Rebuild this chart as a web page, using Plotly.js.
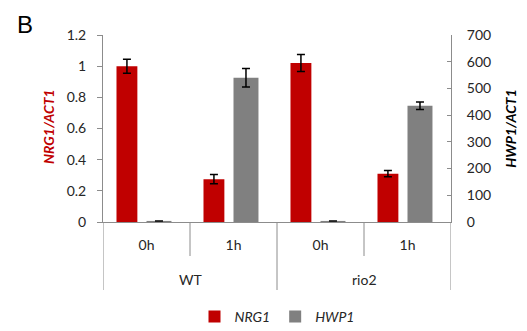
<!DOCTYPE html>
<html>
<head>
<meta charset="utf-8">
<script src="https://cdn.plot.ly/plotly-3.0.1.min.js"></script>
<style>html,body{margin:0;padding:0;background:#fff}#chart{width:527px;height:331px}</style>
</head>
<body>
<div id="chart"></div>
<script>
const strains = ["WT", "WT", "rio2", "rio2"];
const times = ["0h", "1h", "0h", "1h"];
const nrg1 = [1.0, 0.275, 1.02, 0.31];
const nrg1Err = [0.045, 0.03, 0.055, 0.02];
const hwp1 = [4, 540, 4, 435];
const hwp1Err = [0, 35, 0, 14];

const font = "Lato, 'Liberation Sans', sans-serif";
const axisGray = "#8c8c8c";
const textColor = "#262626";
const idx = times.map((t, i) => i);

// plot geometry helpers (pixels -> paper)
const plotLeft = 103, plotW = 348;
const plotTop = 35, plotBottom = 222, plotH = plotBottom - plotTop;
const px = (pix) => (pix - plotLeft) / plotW;
const py = (pix) => (plotBottom - pix) / plotH;

const traces = [
  {
    type: "bar", name: "NRG1", x: idx, y: nrg1, yaxis: "y",
    marker: {color: "#c00000"}, width: 0.24, offset: -0.345,
    error_y: {type: "data", array: nrg1Err, visible: true, color: "#000", thickness: 1.5, width: 4}
  },
  {
    type: "bar", name: "HWP1", x: idx, y: hwp1, yaxis: "y2",
    marker: {color: "#808080"}, width: 0.287, offset: 0,
    error_y: {type: "data", array: hwp1Err, visible: true, color: "#000", thickness: 1.5, width: 4}
  }
];

// dividers: inner between time points, outer around strain groups
const shapes = [];
const annotations = [];
const line = {color: axisGray, width: 1};
shapes.push({type: "line", xref: "x", yref: "paper", x0: -0.5, x1: -0.5, y0: 0, y1: py(290), line});
for (let i = 0; i < strains.length; i++) {
  const b = i + 0.5;
  const outer = (i === strains.length - 1) || strains[i + 1] !== strains[i];
  shapes.push({type: "line", xref: "x", yref: "paper", x0: b, x1: b, y0: 0, y1: outer ? py(290) : py(256), line});
}
const groups = [...new Set(strains)];
groups.forEach(g => {
  const ids = idx.filter(i => strains[i] === g);
  const cx = ids.reduce((a, b) => a + b, 0) / ids.length;
  annotations.push({text: g, xref: "x", yref: "paper", x: cx, y: py(279), xanchor: "center", yanchor: "middle",
                    showarrow: false, font: {family: font, size: 14, color: textColor}});
});
annotations.push({text: "B", xref: "paper", yref: "paper", x: px(25), y: py(24),
                  xanchor: "center", yanchor: "middle", showarrow: false,
                  font: {family: "'Liberation Sans', Arial, sans-serif", size: 24, color: "#000"}});
// left axis title
annotations.push({text: "NRG1/ACT1", xref: "paper", yref: "paper", x: px(48), y: py(127),
                  xanchor: "center", yanchor: "middle", textangle: -90, showarrow: false,
                  font: {family: font, size: 14, color: "#c00000", weight: "bold", style: "italic"}});

const layout = {
  width: 527, height: 331,
  margin: {l: 103, r: 76, t: 35, b: 109, autoexpand: false},
  paper_bgcolor: "#fff", plot_bgcolor: "#fff",
  font: {family: font, size: 14, color: textColor},
  barmode: "overlay",
  showlegend: true,
  legend: {orientation: "h", x: 0.5, xanchor: "center", y: py(317), yanchor: "middle",
           font: {family: font, size: 14, style: "italic", color: textColor}},
  xaxis: {
    type: "linear", range: [-0.5, 3.5], tickvals: idx, ticktext: times,
    showline: true, linecolor: axisGray, linewidth: 1, showgrid: false, zeroline: false,
    ticks: "", ticklabelstandoff: 10, automargin: false,
    tickfont: {family: font, size: 14, color: textColor}
  },
  yaxis: {
    range: [0, 1.2], dtick: 0.2, showgrid: false, zeroline: false, showline: true,
    linecolor: axisGray, ticks: "outside", ticklen: 5, tickcolor: axisGray,
    ticklabelstandoff: 8, automargin: false,
    tickfont: {family: font, size: 14, color: textColor}
  },
  yaxis2: {
    range: [0, 700], dtick: 100, overlaying: "y", side: "right", showgrid: false, zeroline: false,
    showline: true, linecolor: axisGray, ticks: "inside", ticklen: 4, tickcolor: axisGray,
    ticklabelstandoff: 12, automargin: false,
    tickfont: {family: font, size: 14, color: textColor},
    title: {text: "HWP1/ACT1", standoff: 16,
            font: {family: font, size: 14, color: "#000", weight: "bold", style: "italic"}}
  },
  shapes, annotations
};

Plotly.newPlot("chart", traces, layout, {displayModeBar: false, staticPlot: true});
</script>
</body>
</html>
